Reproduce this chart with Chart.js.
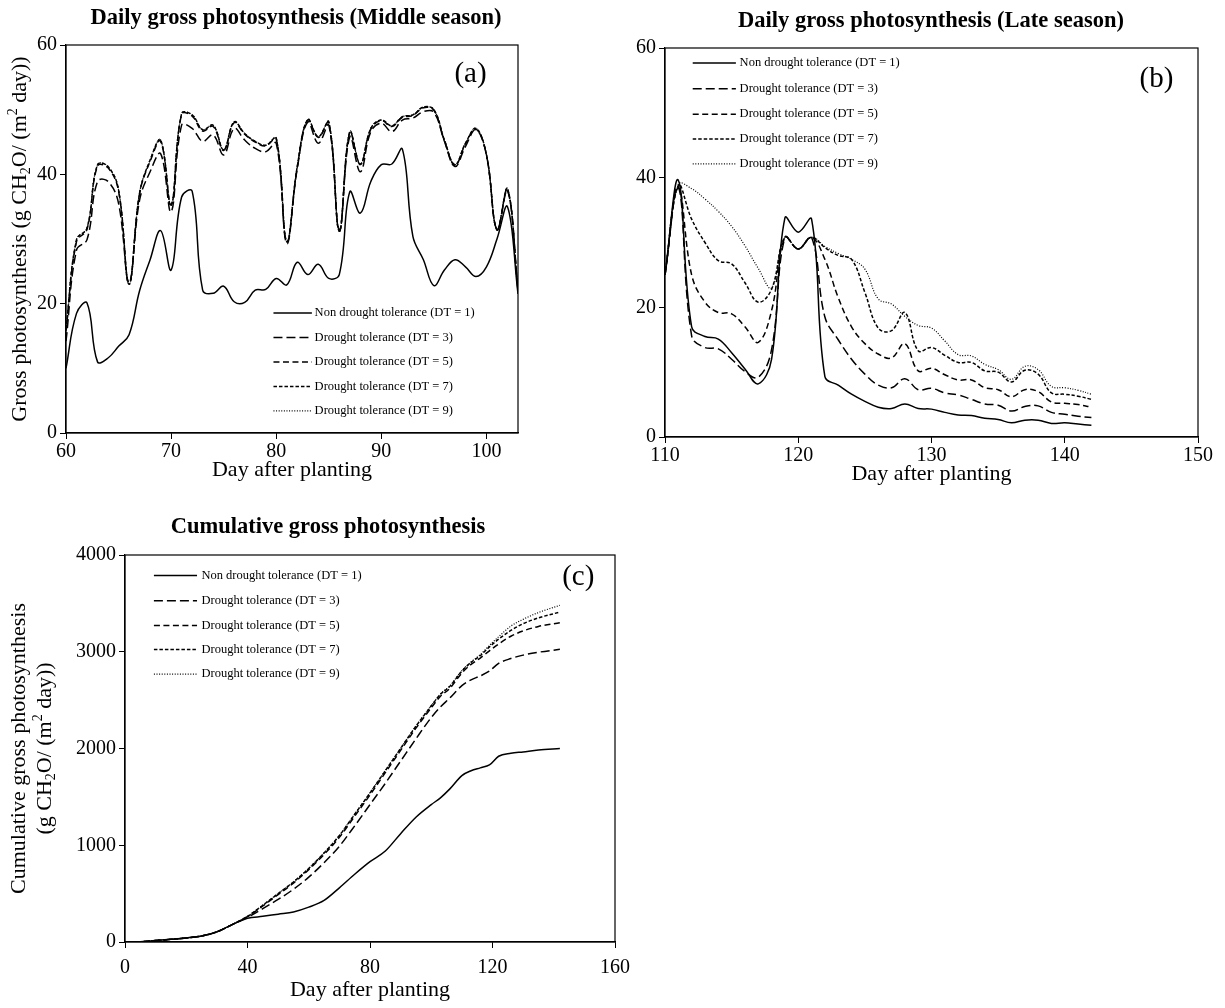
<!DOCTYPE html>
<html>
<head>
<meta charset="utf-8">
<title>Gross photosynthesis</title>
<script src="https://cdn.jsdelivr.net/npm/chart.js@4.4.1/dist/chart.umd.min.js"></script>
<style>
  html, body { margin: 0; padding: 0; background: #fff; }
  body { width: 1225px; height: 1008px; position: relative; overflow: hidden; }
  canvas.panel { position: absolute; left: 0; top: 0; }
</style>
</head>
<body>
<canvas id="chartMid"  class="panel" width="1225" height="1008"></canvas>
<canvas id="chartLate" class="panel" width="1225" height="1008"></canvas>
<canvas id="chartCum"  class="panel" width="1225" height="1008"></canvas>

<script>
'use strict';

// ── Data ──────────────────────────────────────────────────────
const seriesLabels = [
    'Non drought tolerance (DT = 1)',
    'Drought tolerance (DT = 3)',
    'Drought tolerance (DT = 5)',
    'Drought tolerance (DT = 7)',
    'Drought tolerance (DT = 9)'
];

// (a) middle season, daily gross photosynthesis
const midDays = [60,61,62,63,64,65,66,67,68,69,70,71,72,73,74,75,76,77,78,79,80,81,
                 82,83,84,85,86,87,88,89,90,91,92,93,94,95,96,97,98,99,100,101,102,103];
const midDT1 = [10.0,18.5,20.1,11.0,11.6,13.4,15.2,22.0,26.8,31.3,25.2,36.5,37.4,22.1,21.6,22.7,20.3,20.2,22.1,22.2,23.9,22.9,
                26.4,24.5,26.1,23.9,24.5,37.3,34.0,38.9,41.5,41.6,43.9,30.4,26.8,22.8,25.2,26.8,25.7,24.2,25.7,30.0,35.0,21.5];
const midDT3 = [14.2,28.3,29.9,38.9,38.9,35.5,23.3,36.0,40.4,43.2,34.2,47.6,47.1,45.1,46.1,43.0,47.1,45.3,44.0,43.5,44.8,29.3,
                40.9,48.1,44.8,47.6,31.4,45.8,40.4,46.6,47.9,46.6,48.4,48.7,49.7,49.6,45.1,41.2,44.3,46.9,43.0,31.4,37.5,22.4];
const midDT5 = [15.8,29.6,31.5,41.3,41.0,37.4,23.2,37.0,42.0,45.1,35.3,49.3,49.0,46.7,47.4,43.7,48.0,46.2,45.0,44.4,45.5,29.6,
                41.1,48.4,45.7,48.0,31.2,46.5,41.5,47.0,48.3,47.4,48.8,49.1,50.3,49.9,45.2,41.4,44.7,47.0,43.0,31.4,37.7,22.0];
const midDT7 = [16.0,29.9,31.7,41.5,41.2,37.6,23.0,37.1,42.2,45.3,35.2,49.4,49.2,46.9,47.6,43.8,48.1,46.3,45.1,44.5,45.6,29.6,
                41.2,48.5,45.8,48.1,31.2,46.6,41.6,47.1,48.4,47.5,48.9,49.2,50.4,50.0,45.3,41.5,44.8,47.1,43.0,31.4,37.8,22.0];
const midDT9 = [16.0,29.9,31.7,41.5,41.2,37.6,23.0,37.1,42.2,45.3,35.2,49.4,49.2,46.9,47.6,43.8,48.1,46.3,45.1,44.5,45.6,29.6,
                41.2,48.5,45.8,48.1,31.2,46.6,41.6,47.1,48.4,47.5,48.9,49.2,50.4,50.0,45.3,41.5,44.8,47.1,43.0,31.4,37.8,22.0];

// (b) late season, daily gross photosynthesis
const lateDays = [110,111,112,113,114,115,116,117,118,119,120,121,122,123,124,125,126,
                  127,128,129,130,131,132,133,134,135,136,137,138,139,140,141,142];
const lateDT1 = [25.0,39.6,17.0,15.5,15.1,13.0,10.5,8.2,12.0,33.8,31.6,33.6,9.3,8.0,6.6,5.5,4.6,
                 4.4,5.1,4.4,4.3,3.8,3.4,3.3,2.9,2.7,2.2,2.6,2.6,2.1,2.2,2.0,1.8];
const lateDT3 = [25.0,38.6,15.6,13.8,13.6,12.0,10.1,9.2,13.5,30.8,29.0,30.8,18.5,15.0,12.0,9.7,8.0,
                 7.6,9.0,7.3,7.5,6.8,6.5,5.8,5.1,4.9,4.0,4.7,4.8,3.8,3.5,3.2,3.0];
const lateDT5 = [25.0,38.4,25.0,20.8,19.2,19.0,17.0,14.6,19.5,30.8,29.0,30.8,27.4,21.5,17.0,14.4,12.8,
                 12.2,14.4,10.2,10.6,9.6,8.8,8.8,7.6,7.3,6.2,7.3,7.0,5.4,5.2,5.0,4.6];
const lateDT7 = [25.0,38.8,33.6,30.0,27.2,26.7,23.8,20.8,22.8,30.8,29.0,30.8,29.2,28.0,27.4,22.3,16.8,
                 16.4,19.2,13.3,13.8,12.6,11.5,11.5,10.2,10.0,8.5,10.3,9.7,6.8,6.6,6.3,5.8];
const lateDT9 = [25.0,39.0,38.3,36.7,34.8,32.5,29.5,26.0,23.0,30.8,29.0,30.8,29.4,28.3,27.4,25.9,21.3,
                 20.5,18.6,17.2,16.8,14.8,12.7,12.5,11.2,10.4,8.9,10.9,10.4,7.8,7.6,7.2,6.6];

// (c) cumulative gross photosynthesis over the whole season
const cumDays = [0,5,10,15,20,25,30,35,40,45,50,55,60,65,70,75,80,85,90,95,
                 100,103,106,110,113,116,119,122,126,130,135,142];
const cumDT1 = [0,3,15,28,42,62,105,180,245,265,288,310,360,430,560,700,830,940,1120,1290,
                1420,1490,1580,1720,1770,1800,1830,1920,1950,1965,1985,2000];
const cumDT3 = [0,3,15,28,42,62,105,180,255,345,440,545,670,820,990,1200,1420,1640,1870,2100,
                2320,2430,2520,2650,2710,2750,2800,2880,2930,2965,2995,3025];
const cumDT5 = [0,3,15,28,42,62,105,180,262,372,490,608,748,905,1082,1300,1520,1750,1980,2210,
                2420,2540,2620,2780,2870,2935,3010,3080,3160,3215,3262,3300];
const cumDT7 = [0,3,15,28,42,62,105,180,265,380,500,620,760,920,1100,1320,1540,1770,2000,2230,
                2440,2560,2640,2800,2890,2960,3050,3130,3220,3290,3350,3410];
const cumDT9 = [0,3,15,28,42,62,105,180,265,381,501,621,762,922,1102,1322,1543,1773,2003,2233,
                2443,2563,2645,2805,2895,2970,3065,3155,3265,3335,3405,3480];

// ── Styling ───────────────────────────────────────────────────
const PAGE_W = 1225, PAGE_H = 1008;
const Y_AXIS_W = 60, X_AXIS_H = 50;
const SERIF = '"Liberation Serif", "Times New Roman", serif';
const seriesDash  = [[], [9, 4], [6, 3.5], [3.5, 2], [1, 1.6]];
const seriesWidth = [1.5, 1.5, 1.5, 1.5, 1.2];

function buildSets(days, list, extra) {
    return list.map((vals, i) => ({
        label: seriesLabels[i],
        data: days.map((d, k) => ({ x: d, y: vals[k] })),
        borderColor: '#000',
        borderWidth: seriesWidth[i],
        borderDash: seriesDash[i],
        pointRadius: 0,
        fill: false,
        ...extra
    }));
}

// draws text with sub/superscript runs, centred on (x, y)
function drawRich(ctx, parts, x, y, size, rotate) {
    ctx.save();
    ctx.translate(x, y);
    if (rotate) ctx.rotate(-Math.PI / 2);
    ctx.textAlign = 'left';
    ctx.textBaseline = 'middle';
    const fontOf = m => `${m ? Math.round(size * 0.65) : size}px ${SERIF}`;
    const widths = parts.map(([t, m]) => { ctx.font = fontOf(m); return ctx.measureText(t).width; });
    let cx = -widths.reduce((s, w) => s + w, 0) / 2;
    parts.forEach(([t, m], i) => {
        ctx.font = fontOf(m);
        const dy = m === 'sub' ? size * 0.28 : m === 'sup' ? -size * 0.32 : 0;
        ctx.fillText(t, cx, dy);
        cx += widths[i];
    });
    ctx.restore();
}

// frame, titles, panel tag and in-plot legend
const decorPlugin = {
    id: 'decor',
    afterDraw(chart, args, o) {
        const { ctx, chartArea: a } = chart;
        const w = a.right - a.left, h = a.bottom - a.top;
        ctx.save();
        ctx.strokeStyle = '#000';
        ctx.lineWidth = 1.2;
        ctx.setLineDash([]);
        ctx.strokeRect(a.left, a.top, w, h);

        ctx.fillStyle = '#000';
        ctx.textBaseline = 'middle';
        ctx.textAlign = 'center';
        ctx.font = `bold ${o.titleSize}px ${SERIF}`;
        ctx.fillText(o.title, o.titleX, o.titleY);

        ctx.font = `${o.tagSize}px ${SERIF}`;
        ctx.fillText(o.tag, a.left + o.tagPos[0] * w, a.top + o.tagPos[1] * h);

        ctx.font = `${o.axisSize}px ${SERIF}`;
        ctx.fillText('Day after planting', (a.left + a.right) / 2, a.bottom + o.xTitleGap);

        (o.yTitle || []).forEach((line, i) => {
            drawRich(ctx, line, o.yTitleX[i], (a.top + a.bottom) / 2, o.axisSize, true);
        });

        const lg = o.legend;
        chart.data.datasets.forEach((ds, i) => {
            const y = a.top + lg.rows[i] * h;
            const x0 = a.left + lg.x0 * w, x1 = a.left + lg.x1 * w;
            ctx.beginPath();
            ctx.lineWidth = ds.borderWidth;
            ctx.setLineDash(ds.borderDash);
            ctx.moveTo(x0, y);
            ctx.lineTo(x1, y);
            ctx.stroke();
            ctx.setLineDash([]);
            ctx.textAlign = 'left';
            ctx.font = `${lg.size}px ${SERIF}`;
            ctx.fillText(ds.label, a.left + lg.tx * w, y);
        });
        ctx.restore();
    }
};

function axisCommon(min, max, step, pad, fit) {
    return {
        type: 'linear', min, max,
        afterFit: fit,
        // ticks on round steps only, so an axis ending at 103 stops labelling at 100
        afterBuildTicks: s => {
            const ticks = [];
            for (let v = min; v <= max + 1e-9; v += step) ticks.push({ value: v });
            s.ticks = ticks;
        },
        ticks: {
            stepSize: step, color: '#000', font: { family: SERIF, size: 20 },
            padding: pad, maxRotation: 0, autoSkip: false,
            callback: v => String(v)
        },
        grid: { drawOnChartArea: false, drawTicks: true, tickLength: 6, color: '#000', lineWidth: 1 },
        border: { color: '#000', width: 1.2 }
    };
}

function makePanel(id, p) {
    return new Chart(document.getElementById(id), {
        type: 'line',
        data: { datasets: p.datasets },
        options: {
            responsive: false,
            animation: false,
            events: [],
            layout: { padding: {
                left: p.box.left - Y_AXIS_W,
                top: p.box.top,
                right: PAGE_W - p.box.right,
                bottom: PAGE_H - p.box.bottom - X_AXIS_H
            } },
            scales: {
                x: axisCommon(p.x[0], p.x[1], p.x[2], p.xPad, s => { s.height = X_AXIS_H; }),
                y: axisCommon(p.y[0], p.y[1], p.y[2], 3, s => { s.width = Y_AXIS_W; })
            },
            plugins: {
                legend: { display: false },
                tooltip: { enabled: false },
                decor: p.decor
            }
        },
        plugins: [decorPlugin]
    });
}

// ── Panels ────────────────────────────────────────────────────
makePanel('chartMid', {
    box: { left: 66, top: 45, right: 518, bottom: 433 },
    x: [60, 103, 10], y: [0, 60, 20], xPad: 1,
    datasets: buildSets(midDays, [midDT1, midDT3, midDT5, midDT7, midDT9], { tension: 0.4 }),
    decor: {
        title: 'Daily gross photosynthesis (Middle season)', titleSize: 22.5, titleX: 296, titleY: 18,
        tag: '(a)', tagSize: 29, tagPos: [0.895, 0.075],
        axisSize: 22, xTitleGap: 37,
        yTitle: [[['Gross photosynthesis (g CH'], ['2', 'sub'], ['O/ (m'], ['2', 'sup'], [' day))']]],
        yTitleX: [20],
        legend: { x0: 0.459, x1: 0.544, tx: 0.550, size: 12.5, rows: [0.691, 0.754, 0.817, 0.880, 0.943] }
    }
});

makePanel('chartLate', {
    box: { left: 665, top: 48, right: 1198, bottom: 437 },
    x: [110, 150, 10], y: [0, 60, 20], xPad: 1,
    datasets: buildSets(lateDays, [lateDT1, lateDT3, lateDT5, lateDT7, lateDT9], { tension: 0.4 }),
    decor: {
        title: 'Daily gross photosynthesis (Late season)', titleSize: 22.5, titleX: 931, titleY: 21,
        tag: '(b)', tagSize: 29, tagPos: [0.922, 0.081],
        axisSize: 22, xTitleGap: 37,
        yTitle: [],
        yTitleX: [],
        legend: { x0: 0.052, x1: 0.133, tx: 0.140, size: 12.5, rows: [0.0385, 0.105, 0.170, 0.234, 0.298] }
    }
});

makePanel('chartCum', {
    box: { left: 125, top: 555, right: 615, bottom: 942 },
    x: [0, 160, 40], y: [0, 4000, 1000], xPad: 8,
    datasets: buildSets(cumDays, [cumDT1, cumDT3, cumDT5, cumDT7, cumDT9], { cubicInterpolationMode: 'monotone' }),
    decor: {
        title: 'Cumulative gross photosynthesis', titleSize: 22.5, titleX: 328, titleY: 527,
        tag: '(c)', tagSize: 29, tagPos: [0.925, 0.058],
        axisSize: 22, xTitleGap: 48,
        yTitle: [
            [['Cumulative gross photosynthesis']],
            [['(g CH'], ['2', 'sub'], ['O/ (m'], ['2', 'sup'], [' day))']]
        ],
        yTitleX: [19, 45],
        legend: { x0: 0.059, x1: 0.147, tx: 0.156, size: 12.5, rows: [0.053, 0.118, 0.182, 0.244, 0.308] }
    }
});
</script>
</body>
</html>
